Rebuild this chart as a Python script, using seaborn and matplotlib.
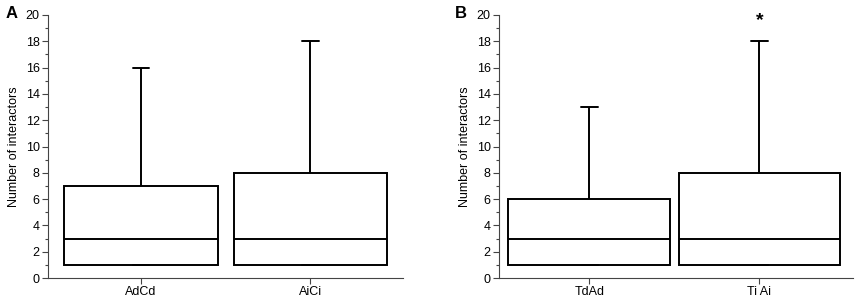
import pandas as pd
import matplotlib
matplotlib.use('Agg')
import matplotlib.pyplot as plt
from matplotlib.ticker import MultipleLocator
import seaborn as sns

# five-number style values (min, Q1, median, Q3, max)
groups_a = ['AdCd', 'AiCi']
adcd = [1, 1, 3, 7, 16]
aici = [1, 1, 3, 8, 18]

groups_b = ['TdAd', 'Ti Ai']
tdad = [1, 1, 3, 6, 13]
tiai = [1, 1, 3, 8, 18]

df_a = pd.DataFrame({'group': ['AdCd'] * len(adcd) + ['AiCi'] * len(aici),
                     'n': adcd + aici})
df_b = pd.DataFrame({'group': ['TdAd'] * len(tdad) + ['Ti Ai'] * len(tiai),
                     'n': tdad + tiai})

sns.set_style('ticks')
plt.rcParams['font.family'] = ['Liberation Sans', 'DejaVu Sans']
plt.rcParams['text.color'] = 'black'
plt.rcParams['axes.labelcolor'] = 'black'
plt.rcParams['xtick.color'] = 'black'
plt.rcParams['ytick.color'] = 'black'

fig = plt.figure(figsize=(8.56, 3.03), dpi=100)
ax_a = fig.add_axes([0.056, 0.0825, 0.415, 0.868])
ax_b = fig.add_axes([0.583, 0.0825, 0.4135, 0.868])

box_kw = dict(x='group', y='n', whis=(0, 100), color='white', linecolor='black',
              linewidth=1.4, fliersize=0, capwidths=0.1)

sns.boxplot(data=df_a, order=groups_a, width=0.905, ax=ax_a, **box_kw)
sns.boxplot(data=df_b, order=groups_b, width=0.95, ax=ax_b, **box_kw)

for ax, xl in [(ax_a, (-0.55, 1.55)), (ax_b, (-0.53, 1.55))]:
    ax.set_xlim(*xl)
    ax.set_ylim(0, 20)
    ax.yaxis.set_major_locator(MultipleLocator(2))
    ax.yaxis.set_minor_locator(MultipleLocator(1))
    ax.tick_params(axis='both', which='major', length=4, width=0.8, labelsize=9, pad=2,
                   color='#444444', labelcolor='black')
    ax.tick_params(axis='y', which='minor', length=2.5, width=0.8, color='#444444')
    ax.set_xlabel('')
    ax.set_ylabel('Number of interactors', fontsize=9, labelpad=4)
    for s in ['left', 'bottom']:
        ax.spines[s].set_linewidth(0.8)
        ax.spines[s].set_color('#444444')
    sns.despine(ax=ax)

ax_b.text(1, 19.6, '*', ha='center', va='center', fontsize=14, fontweight='bold')

fig.text(0.006, 0.955, 'A', fontsize=12, fontweight='bold', va='center')
fig.text(0.531, 0.955, 'B', fontsize=12, fontweight='bold', va='center')

plt.savefig('out.png', dpi=100)
